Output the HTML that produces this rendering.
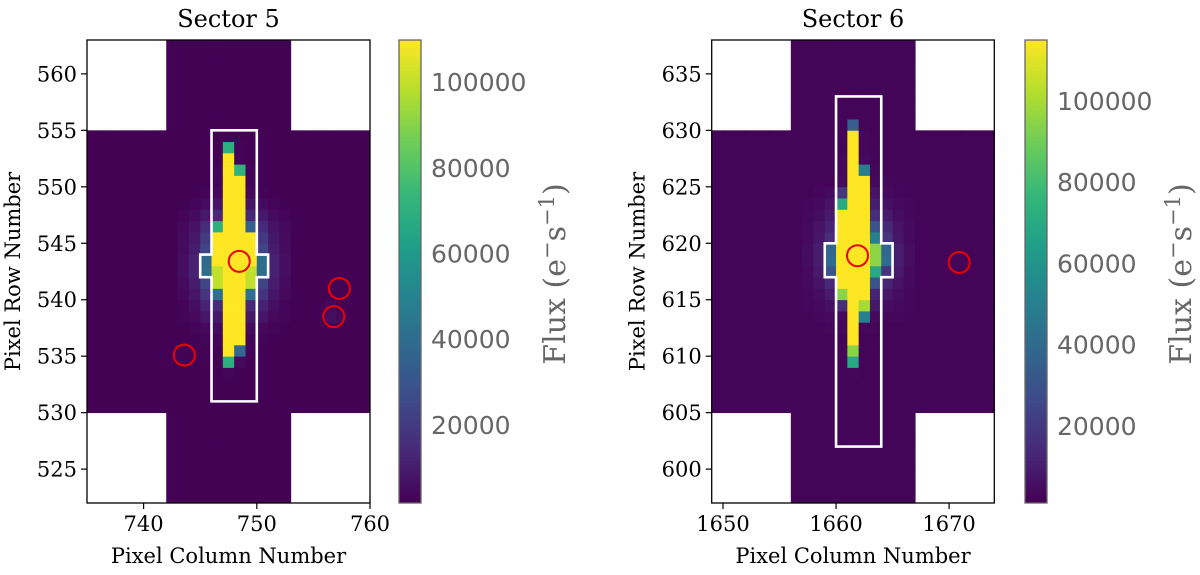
<!DOCTYPE html>
<html><head><meta charset="utf-8">
<style>
html,body{margin:0;padding:0;background:#fff;}
svg{display:block;}
.tk{font-family:"DejaVu Serif","Liberation Serif",serif;font-size:21px;fill:#000;}
.ttl{font-family:"DejaVu Serif","Liberation Serif",serif;font-size:21px;fill:#000;}
.title{font-family:"DejaVu Serif","Liberation Serif",serif;font-size:24px;fill:#000;}
.cbl{font-family:"DejaVu Sans","Liberation Sans",sans-serif;font-size:25px;fill:#666;}
.flux{font-family:"DejaVu Serif","Liberation Serif",serif;font-size:30px;fill:#666;}
</style></head>
<body>
<svg id="fig" width="1200" height="575" viewBox="0 0 1200 575" xmlns="http://www.w3.org/2000/svg"></svg>
<script>
// ---------- data (flux in thousands of e-/s) ----------
const s5CoreCol0 = 743;
const s5CoreRowTop = 554;
const s5Core = [
[2,2,2,2,2,2,2,2,2,2],
[2,2,2,2,70,3,2,2,2,2],
[2,2,2,2,110,3,2,2,2,2],
[2,2,2,3,110,72,3,2,2,2],
[2,2,2,3,110,110,3,2,2,2],
[2,2,3,4,110,110,4,3,2,2],
[2,3,5,8,110,110,8,5,3,2],
[3,5,9,14,110,110,14,9,5,3],
[4,7,15,70,110,110,35,15,7,4],
[5,9,20,110,110,110,110,20,9,5],
[5,10,24,110,110,110,110,24,10,5],
[6,12,38,110,110,110,110,40,12,6],
[6,12,40,100,110,110,100,40,12,6],
[5,10,24,100,110,110,100,24,10,5],
[4,8,18,42,110,110,42,18,8,4],
[3,6,12,15,110,110,15,12,6,3],
[3,4,8,9,110,110,9,8,4,3],
[2,3,4,5,110,110,5,4,3,2],
[2,2,3,3,110,110,3,3,2,2],
[2,2,2,2,110,38,3,2,2,2],
[2,2,2,2,70,4,2,2,2,2],
[2,2,2,2,3,2,2,2,2,2]
];
const s5Extra = [[756,538,6],[757,538,4],[756,539,4]];
const s5Stars = [[748.45,543.4],[757.3,541.0],[756.8,538.5],[743.6,535.1]];
const s5Aperture = [[746,555],[750,555],[750,544],[751,544],[751,542],[750,542],[750,531],[746,531],[746,542],[745,542],[745,544],[746,544]];
const s5XTicks = [740,750,760];
const s5YTicks = [525,530,535,540,545,550,555,560];
const s5CbTicks = [20000,40000,60000,80000,100000];

const s6CoreCol0 = 1657;
const s6CoreRowTop = 631;
const s6Core = [
[2,2,2,2,2,2,2,2,2,2],
[2,2,2,2,35,2,2,2,2,2],
[2,2,2,2,115,3,2,2,2,2],
[2,2,2,2,115,3,2,2,2,2],
[2,2,2,3,115,4,2,2,2,2],
[2,2,2,3,115,50,3,2,2,2],
[2,2,2,4,115,115,4,3,2,2],
[2,3,4,18,115,115,7,4,3,2],
[3,4,7,70,115,115,10,6,4,3],
[3,5,9,115,115,115,15,9,5,3],
[4,7,12,115,115,115,30,14,7,4],
[4,8,16,115,115,115,50,18,8,4],
[5,10,38,115,115,115,95,38,10,5],
[5,10,40,115,115,115,95,40,10,5],
[4,9,30,115,115,115,70,18,9,4],
[4,7,14,115,115,115,30,12,7,4],
[3,5,9,95,115,115,12,8,5,3],
[3,4,6,15,115,100,8,5,4,3],
[2,3,4,4,115,50,4,3,3,2],
[2,2,3,3,115,3,3,2,2,2],
[2,2,2,2,115,2,2,2,2,2],
[2,2,2,2,95,2,2,2,2,2],
[2,2,2,2,70,2,2,2,2,2],
[2,2,2,2,3,2,2,2,2,2]
];
const s6Extra = [];
const s6Stars = [[1661.9,618.9],[1670.9,618.3]];
const s6Aperture = [[1660,633],[1664,633],[1664,620],[1665,620],[1665,617],[1664,617],[1664,602],[1660,602],[1660,617],[1659,617],[1659,620],[1660,620]];
const s6XTicks = [1650,1660,1670];
const s6YTicks = [600,605,610,615,620,625,630,635];
const s6CbTicks = [20000,40000,60000,80000,100000];

// ---------- helpers ----------
const NS = "http://www.w3.org/2000/svg";
const svg = document.getElementById('fig');
function mk(tag, attrs, parent){
  const e = document.createElementNS(NS, tag);
  for (const k in attrs) e.setAttribute(k, attrs[k]);
  (parent||svg).appendChild(e);
  return e;
}
const VIR = [[68,1,84],[72,40,120],[62,74,137],[49,104,142],[38,130,142],[31,158,137],[53,183,121],[109,205,89],[180,222,44],[253,231,37]];
function viridis(t){
  t = Math.max(0, Math.min(1, t));
  const p = t*(VIR.length-1), i = Math.min(VIR.length-2, Math.floor(p)), f = p-i;
  const a = VIR[i], b = VIR[i+1];
  return 'rgb(' + [0,1,2].map(k => Math.round(a[k]+(b[k]-a[k])*f)).join(',') + ')';
}

function panel(cfg){
  const X = v => cfg.ax0 + (v - cfg.xmin) / (cfg.xmax - cfg.xmin) * (cfg.ax1 - cfg.ax0);
  const Y = v => cfg.ay1 - (v - cfg.ymin) / (cfg.ymax - cfg.ymin) * (cfg.ay1 - cfg.ay0);
  const color = v => viridis((v*1000 - cfg.vmin) / (cfg.vmax - cfg.vmin));
  const g = mk('g', {});
  
  
  const extra = {};
  cfg.extra.forEach(e => extra[e[0]+','+e[1]] = e[2]);
  for (let c = cfg.xmin; c < cfg.xmax; c++){
    for (let r = cfg.ymin; r < cfg.ymax; r++){
      const inFoot = (c >= cfg.fc0 && c < cfg.fc1) || (r >= cfg.fr0 && r < cfg.fr1);
      if (!inFoot) continue;
      let v = 2;
      const ci = c - cfg.coreCol0, ri = cfg.coreRowTop - r;
      if (ri >= 0 && ri < cfg.core.length && ci >= 0 && ci < cfg.core[0].length) v = cfg.core[ri][ci];
      if (extra[c+','+r] !== undefined) v = extra[c+','+r];
      const px = mk('rect', {x: X(c), y: Y(r+1), width: X(c+1)-X(c)+0.4, height: Y(r)-Y(r+1)+0.4, fill: color(v)}, g);
      
      
    }
  }
  const ap = mk('polygon', {points: cfg.aperture.map(p => X(p[0])+','+Y(p[1])).join(' '), fill:'none', stroke:'#fff', 'stroke-width':2.6});
  
  
  cfg.stars.forEach(s => {
    const c = mk('circle', {cx: X(s[0]), cy: Y(s[1]), r: 10.5, fill:'none', stroke:'#e00', 'stroke-width':2});
    
    
  });
  const fr = mk('rect', {x: cfg.ax0, y: cfg.ay0, width: cfg.ax1-cfg.ax0, height: cfg.ay1-cfg.ay0, fill:'none', stroke:'#000', 'stroke-width':1.3});
  
  
  cfg.xticks.forEach(t => {
    mk('line', {x1: X(t), x2: X(t), y1: cfg.ay1, y2: cfg.ay1+6, stroke:'#000', 'stroke-width':1.2});
    const tx = mk('text', {x: X(t), y: cfg.ay1+28, 'text-anchor':'middle', class:'tk'});
    tx.textContent = t;
    
    
  });
  cfg.yticks.forEach(t => {
    mk('line', {x1: cfg.ax0-6, x2: cfg.ax0, y1: Y(t), y2: Y(t), stroke:'#000', 'stroke-width':1.2});
    const tx = mk('text', {x: cfg.ax0-10, y: Y(t)+7.5, 'text-anchor':'end', class:'tk'});
    tx.textContent = t;
    
    
  });
  const ttl = mk('text', {x:(cfg.ax0+cfg.ax1)/2, y:27, 'text-anchor':'middle', class:'title'});
  ttl.textContent = cfg.title;
  
  
  const xl = mk('text', {x:(cfg.ax0+cfg.ax1)/2, y:563, 'text-anchor':'middle', class:'ttl'});
  xl.textContent = 'Pixel Column Number';
  
  
  const yx = cfg.ax0 - 67, yy = (cfg.ay0+cfg.ay1)/2;
  const yl = mk('text', {x:yx, y:yy, 'text-anchor':'middle', class:'ttl', transform:'rotate(-90 '+yx+' '+yy+')'});
  yl.textContent = 'Pixel Row Number';
  
  
  const CY = v => cfg.ay1 - (v - cfg.vmin) / (cfg.vmax - cfg.vmin) * (cfg.ay1 - cfg.ay0);
  const cb = mk('g', {});
  
  
  const N = 120, h = (cfg.ay1-cfg.ay0)/N;
  for (let i = 0; i < N; i++){
    mk('rect', {x: cfg.cb0, y: cfg.ay1 - (i+1)*h, width: cfg.cb1-cfg.cb0, height: h+0.5, fill: viridis((i+0.5)/N)}, cb);
  }
  mk('rect', {x: cfg.cb0, y: cfg.ay0, width: cfg.cb1-cfg.cb0, height: cfg.ay1-cfg.ay0, fill:'none', stroke:'#666', 'stroke-width':1.3}, cb);
  cfg.cbticks.forEach(t => {
    const tx = mk('text', {x: cfg.cb1+10, y: CY(t)+9, class:'cbl'});
    tx.textContent = t;
    
    
  });
  const fx = cfg.cb1 + 144, fy = 274;
  const fl = mk('text', {x: fx, y: fy, 'text-anchor':'middle', class:'flux', transform:'rotate(-90 '+fx+' '+fy+')'});
  fl.innerHTML = 'Flux (e<tspan dy="-11" font-size="21">−</tspan><tspan dy="11">s</tspan><tspan dy="-11" font-size="21">−1</tspan><tspan dy="11">)</tspan>';
  
  
}

panel({name:'sector-5', title:'Sector 5', ax0:87, ax1:370, ay0:40, ay1:503,
  xmin:735, xmax:760, ymin:522, ymax:563, fc0:742, fc1:753, fr0:530, fr1:555,
  core:s5Core, coreCol0:s5CoreCol0, coreRowTop:s5CoreRowTop, extra:s5Extra,
  stars:s5Stars, aperture:s5Aperture, xticks:s5XTicks, yticks:s5YTicks, cbticks:s5CbTicks,
  vmin:1800, vmax:109800, cb0:399, cb1:421});
panel({name:'sector-6', title:'Sector 6', ax0:711.7, ax1:994.3, ay0:40, ay1:503,
  xmin:1649, xmax:1674, ymin:597, ymax:638, fc0:1656, fc1:1667, fr0:605, fr1:630,
  core:s6Core, coreCol0:s6CoreCol0, coreRowTop:s6CoreRowTop, extra:s6Extra,
  stars:s6Stars, aperture:s6Aperture, xticks:s6XTicks, yticks:s6YTicks, cbticks:s6CbTicks,
  vmin:1000, vmax:115000, cb0:1025, cb1:1047});
</script>
</body></html>
